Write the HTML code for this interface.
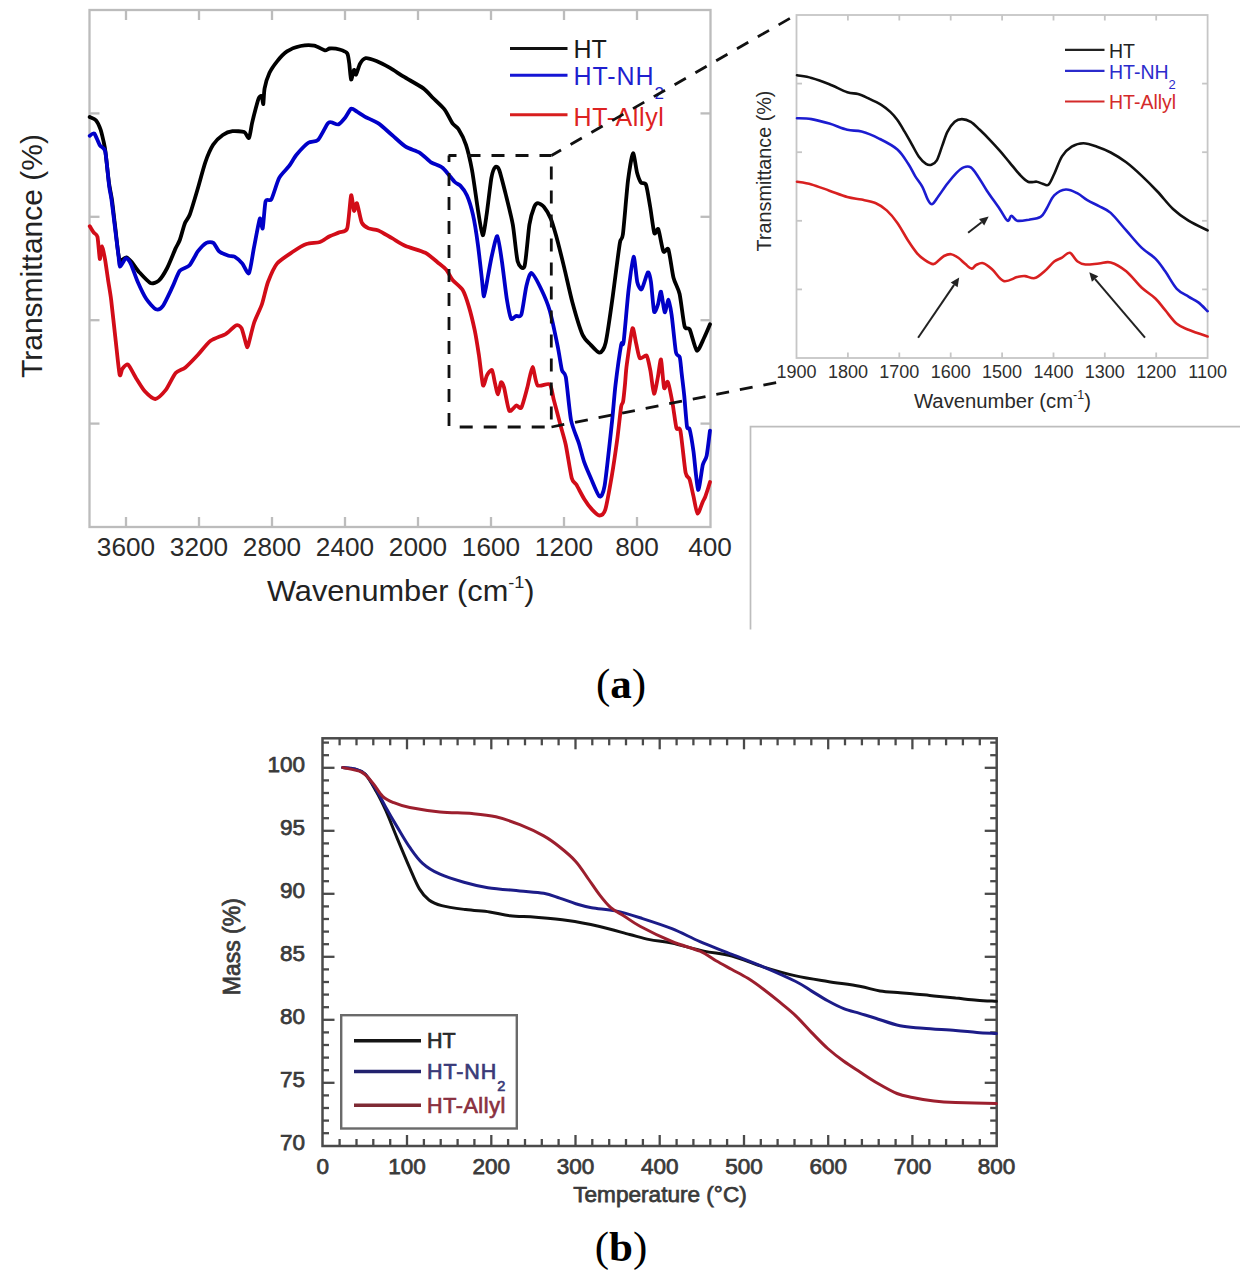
<!DOCTYPE html><html><head><meta charset="utf-8"><title>Figure</title><style>
html,body{margin:0;padding:0;background:#fff;}body{width:1253px;height:1285px;overflow:hidden;position:relative;}svg{position:absolute;left:0;top:0;}
</style></head><body>
<svg width="1253" height="1285" viewBox="0 0 1253 1285">
<rect x="0" y="0" width="1253" height="1285" fill="#fff"/>
<g stroke="#bcbcbc" stroke-width="2.3" fill="none">
<rect x="89.5" y="10.0" width="621.0" height="517.0"/>
<line x1="126.0" y1="10.0" x2="126.0" y2="20.0"/>
<line x1="126.0" y1="527.0" x2="126.0" y2="517.0"/>
<line x1="199.0" y1="10.0" x2="199.0" y2="20.0"/>
<line x1="199.0" y1="527.0" x2="199.0" y2="517.0"/>
<line x1="272.0" y1="10.0" x2="272.0" y2="20.0"/>
<line x1="272.0" y1="527.0" x2="272.0" y2="517.0"/>
<line x1="345.0" y1="10.0" x2="345.0" y2="20.0"/>
<line x1="345.0" y1="527.0" x2="345.0" y2="517.0"/>
<line x1="418.0" y1="10.0" x2="418.0" y2="20.0"/>
<line x1="418.0" y1="527.0" x2="418.0" y2="517.0"/>
<line x1="491.0" y1="10.0" x2="491.0" y2="20.0"/>
<line x1="491.0" y1="527.0" x2="491.0" y2="517.0"/>
<line x1="564.0" y1="10.0" x2="564.0" y2="20.0"/>
<line x1="564.0" y1="527.0" x2="564.0" y2="517.0"/>
<line x1="637.0" y1="10.0" x2="637.0" y2="20.0"/>
<line x1="637.0" y1="527.0" x2="637.0" y2="517.0"/>
<line x1="89.5" y1="113.4" x2="99.5" y2="113.4"/>
<line x1="710.5" y1="113.4" x2="700.5" y2="113.4"/>
<line x1="89.5" y1="216.8" x2="99.5" y2="216.8"/>
<line x1="710.5" y1="216.8" x2="700.5" y2="216.8"/>
<line x1="89.5" y1="320.2" x2="99.5" y2="320.2"/>
<line x1="710.5" y1="320.2" x2="700.5" y2="320.2"/>
<line x1="89.5" y1="423.6" x2="99.5" y2="423.6"/>
<line x1="710.5" y1="423.6" x2="700.5" y2="423.6"/>
</g>
<g fill="none" stroke-width="3.8" stroke-linejoin="round" stroke-linecap="round">
<path stroke="#000" d="M89.7,117.0 C90.4,117.4 94.6,118.7 95.9,120.2 C97.2,121.7 99.7,127.1 100.6,129.6 C101.5,132.1 103.1,139.4 103.7,142.0 C104.3,144.6 104.9,147.2 105.5,152.0 C106.1,156.8 108.2,177.4 109.0,183.0 C109.8,188.6 111.3,195.1 112.0,200.0 C112.7,204.9 114.1,218.1 115.0,225.0 C115.9,231.9 118.0,255.1 119.3,258.9 C120.6,262.7 124.9,256.9 126.3,257.3 C127.7,257.7 130.2,260.3 131.7,262.0 C133.2,263.7 137.0,269.8 139.2,272.2 C141.4,274.6 148.1,282.0 150.4,283.0 C152.7,284.0 156.8,282.4 158.8,280.6 C160.8,278.9 165.2,271.8 167.2,268.0 C169.2,264.2 174.1,251.7 175.6,248.4 C177.1,245.1 178.7,243.0 179.8,240.0 C180.9,237.0 183.8,225.9 185.0,223.0 C186.2,220.1 188.2,218.7 189.7,214.8 C191.2,210.9 195.7,195.6 197.5,189.5 C199.3,183.4 203.5,167.5 205.3,162.3 C207.1,157.1 211.1,148.0 213.1,144.8 C215.1,141.6 220.5,136.6 222.8,135.0 C225.1,133.4 230.0,131.5 232.5,131.2 C235.0,130.9 242.3,131.3 244.2,132.1 C246.1,132.9 248.1,139.0 249.0,138.0 C249.9,137.0 251.2,126.9 252.0,123.4 C252.8,119.9 255.1,110.8 255.9,107.8 C256.7,104.8 258.1,99.5 258.8,98.1 C259.5,96.7 261.2,95.4 261.7,96.1 C262.2,96.8 263.0,104.9 263.3,104.0 C263.6,103.1 263.9,92.0 264.6,88.4 C265.3,84.8 268.0,76.0 269.5,72.8 C271.0,69.6 275.3,63.6 277.3,61.1 C279.3,58.6 284.3,53.2 287.0,51.4 C289.7,49.6 297.4,46.7 300.6,46.0 C303.8,45.3 311.4,45.1 314.2,45.6 C317.0,46.1 323.1,50.1 324.9,50.4 C326.7,50.7 328.0,48.6 329.7,48.5 C331.4,48.4 337.5,48.9 339.5,49.5 C341.5,50.1 346.1,51.7 347.2,53.3 C348.3,54.9 348.7,59.9 349.2,63.0 C349.7,66.1 350.5,78.8 351.1,79.6 C351.7,80.4 353.4,70.5 354.0,69.9 C354.6,69.3 355.3,75.4 356.0,74.7 C356.7,74.0 358.8,65.9 359.9,64.0 C361.0,62.1 363.8,58.5 365.7,58.2 C367.6,57.9 373.6,60.0 376.4,61.1 C379.2,62.2 386.8,66.1 390.0,67.9 C393.2,69.7 399.8,74.3 403.7,76.7 C407.6,79.1 420.0,85.9 423.4,88.4 C426.8,90.9 430.5,95.5 433.0,98.0 C435.5,100.5 442.5,106.8 444.8,109.8 C447.1,112.8 450.9,121.2 452.5,123.4 C454.1,125.6 456.8,126.5 458.4,129.0 C460.0,131.5 464.4,140.0 466.0,144.8 C467.6,149.6 470.6,162.5 472.0,170.0 C473.4,177.5 476.6,201.4 477.8,209.0 C479.0,216.6 481.7,234.6 482.7,235.3 C483.7,236.0 485.6,221.5 486.6,214.8 C487.6,208.1 490.4,183.5 491.4,177.9 C492.4,172.3 494.4,167.9 495.3,167.0 C496.2,166.1 498.0,166.7 499.2,170.0 C500.4,173.3 504.4,189.0 506.0,195.4 C507.6,201.8 511.4,216.9 512.8,224.6 C514.2,232.3 516.3,256.6 517.7,261.5 C519.1,266.4 523.1,270.7 524.5,266.4 C525.9,262.1 528.3,231.5 529.4,224.6 C530.5,217.7 533.2,209.5 534.2,207.0 C535.2,204.5 536.9,203.2 538.0,203.2 C539.1,203.2 542.5,205.2 544.0,207.0 C545.5,208.8 549.4,215.4 550.8,218.7 C552.2,222.0 554.4,229.6 556.0,235.3 C557.6,241.0 562.3,259.8 564.2,267.6 C566.1,275.4 570.2,294.2 572.3,302.0 C574.4,309.8 580.3,329.5 582.4,334.5 C584.5,339.5 588.5,342.5 590.5,344.6 C592.5,346.7 597.8,352.9 599.6,352.7 C601.4,352.5 604.2,349.2 605.7,342.6 C607.2,336.0 611.2,307.6 612.8,296.0 C614.4,284.4 618.6,250.6 619.8,243.4 C621.0,236.2 621.9,241.6 622.9,234.3 C623.9,227.0 626.8,190.0 628.0,180.6 C629.2,171.2 632.0,154.2 633.0,153.3 C634.0,152.4 636.1,169.1 637.0,172.5 C637.9,175.9 640.0,181.2 641.0,182.6 C642.0,184.0 644.9,181.9 646.0,184.7 C647.1,187.5 649.2,201.3 650.2,207.0 C651.2,212.7 653.4,230.6 654.3,233.2 C655.2,235.8 657.2,227.1 658.3,229.2 C659.4,231.3 662.2,249.1 663.4,251.5 C664.6,253.9 667.2,246.3 668.4,249.4 C669.6,252.5 672.2,272.6 673.5,277.8 C674.8,283.0 678.3,288.3 679.6,294.0 C680.9,299.7 683.4,322.3 684.6,326.4 C685.8,330.5 688.3,326.6 689.7,329.4 C691.1,332.2 695.2,349.5 696.8,350.6 C698.4,351.7 702.3,341.6 703.8,338.5 C705.3,335.4 709.3,326.0 710.0,324.3"/>
<path stroke="#0000c8" d="M89.7,135.8 C90.2,135.5 93.1,132.4 94.3,133.5 C95.5,134.6 98.5,143.1 99.8,145.2 C101.1,147.3 104.1,146.7 105.2,151.4 C106.3,156.1 108.4,180.1 109.1,185.7 C109.8,191.3 110.9,195.2 111.5,199.7 C112.1,204.2 113.8,218.1 114.6,224.6 C115.4,231.1 117.9,250.9 118.5,255.8 C119.1,260.7 119.1,266.4 120.0,266.7 C120.9,267.0 124.6,258.5 125.9,258.2 C127.2,257.9 129.4,261.0 130.8,263.8 C132.2,266.6 136.0,277.9 137.8,282.0 C139.6,286.1 144.1,295.6 146.2,298.8 C148.3,302.0 154.0,308.5 156.0,309.3 C158.0,310.1 161.0,308.5 163.0,305.8 C165.0,303.1 170.8,290.3 172.8,286.2 C174.8,282.1 177.8,273.2 179.8,270.8 C181.8,268.4 187.5,267.5 189.6,265.2 C191.7,262.9 196.0,253.8 198.0,251.2 C200.0,248.6 204.6,243.8 206.4,242.8 C208.2,241.8 211.9,241.8 213.4,242.8 C214.9,243.8 217.2,249.7 219.0,251.2 C220.8,252.7 226.8,255.1 228.6,255.7 C230.4,256.3 232.9,255.8 234.5,256.7 C236.1,257.6 240.6,261.6 242.3,263.5 C244.0,265.4 247.6,275.0 249.0,273.2 C250.4,271.4 252.6,254.3 253.9,247.9 C255.2,241.5 258.8,221.0 259.8,218.7 C260.8,216.4 262.0,230.4 262.7,228.4 C263.4,226.4 264.6,204.6 265.6,201.2 C266.6,197.8 269.8,202.0 271.4,199.3 C273.0,196.6 277.1,181.8 279.2,177.9 C281.3,174.0 287.0,168.9 289.0,166.2 C291.0,163.5 294.4,157.2 296.7,154.5 C299.0,151.8 305.9,144.5 308.4,142.8 C310.9,141.1 315.8,142.2 318.1,139.9 C320.4,137.6 326.2,125.4 327.8,123.4 C329.4,121.4 330.5,122.3 331.7,122.4 C332.9,122.5 336.9,125.0 338.5,124.4 C340.1,123.8 343.8,119.3 345.3,117.5 C346.8,115.7 349.7,109.5 351.1,108.8 C352.5,108.1 355.4,110.8 357.0,111.7 C358.6,112.6 362.2,115.2 364.7,116.6 C367.2,118.0 375.2,121.3 378.4,123.4 C381.6,125.5 388.8,132.3 392.0,135.0 C395.2,137.7 402.4,144.6 405.6,146.7 C408.8,148.8 416.5,150.8 419.5,152.6 C422.5,154.4 428.3,160.5 431.0,162.3 C433.7,164.1 440.1,165.7 442.8,168.0 C445.5,170.3 452.5,179.7 454.5,181.8 C456.5,183.9 458.8,184.0 460.3,185.6 C461.8,187.2 465.5,192.0 467.0,195.4 C468.5,198.8 471.7,209.1 473.0,214.8 C474.3,220.5 476.8,236.4 477.8,244.0 C478.9,251.6 481.3,273.9 482.0,280.0 C482.7,286.1 483.3,296.8 484.0,296.3 C484.7,295.8 487.1,280.8 488.0,276.0 C488.9,271.2 490.9,259.6 492.0,255.0 C493.1,250.4 496.1,235.4 497.3,236.2 C498.5,237.0 500.9,254.5 502.0,262.0 C503.1,269.5 505.9,293.7 507.0,300.3 C508.1,306.9 509.9,316.7 511.0,318.5 C512.0,320.3 514.8,316.5 516.0,316.0 C517.2,315.5 520.2,318.0 521.4,314.5 C522.6,311.0 525.2,290.8 526.4,286.0 C527.6,281.2 529.7,272.5 531.5,273.0 C533.3,273.5 539.5,285.6 541.6,290.0 C543.7,294.4 547.8,303.9 549.7,310.5 C551.6,317.1 556.4,340.0 557.8,346.9 C559.2,353.8 561.0,366.5 561.9,370.0 C562.8,373.5 564.7,371.2 565.8,377.0 C566.9,382.8 569.5,412.2 571.0,420.0 C572.5,427.8 577.5,438.8 579.0,443.7 C580.5,448.6 582.8,458.2 584.2,462.2 C585.6,466.2 589.0,474.0 590.8,478.0 C592.6,482.0 597.8,495.5 599.4,496.4 C601.0,497.3 603.1,494.5 604.6,485.9 C606.1,477.3 610.6,434.5 611.9,422.7 C613.2,410.9 614.4,394.1 615.5,385.0 C616.6,375.9 620.3,349.5 621.2,344.5 C622.1,339.5 622.7,348.4 623.6,342.0 C624.5,335.6 627.4,299.7 628.6,289.8 C629.8,279.9 632.6,257.7 633.6,256.8 C634.6,255.9 636.4,278.5 637.3,282.3 C638.2,286.1 640.5,290.4 641.7,289.2 C642.9,288.0 646.8,273.2 647.9,272.4 C649.0,271.6 650.3,277.7 651.0,282.3 C651.7,286.9 653.3,309.0 654.1,311.6 C654.9,314.2 657.1,307.0 657.9,304.7 C658.7,302.4 660.2,290.7 661.0,291.6 C661.8,292.5 663.8,311.3 664.7,312.2 C665.6,313.1 667.7,299.4 668.5,299.7 C669.3,300.0 670.7,308.6 671.6,314.7 C672.5,320.8 675.0,347.1 675.9,352.0 C676.8,356.9 679.0,354.7 679.7,357.0 C680.4,359.3 681.0,367.4 681.5,372.0 C682.0,376.6 683.7,389.9 684.3,396.3 C684.9,402.7 686.4,422.8 687.0,426.6 C687.6,430.5 688.8,426.4 689.6,429.3 C690.4,432.2 692.5,444.5 693.5,451.6 C694.5,458.7 697.0,488.3 698.1,489.8 C699.2,491.3 701.8,468.8 702.8,464.8 C703.8,460.8 705.9,459.6 706.7,455.6 C707.5,451.6 709.6,433.5 710.0,430.6"/>
<path stroke="#d20c18" d="M89.7,226.2 C90.2,226.9 92.7,231.1 93.6,232.4 C94.5,233.7 96.8,233.9 97.5,237.0 C98.2,240.1 99.3,257.8 99.8,258.9 C100.3,260.0 101.5,246.2 102.1,246.4 C102.7,246.6 104.5,256.2 105.2,260.4 C105.9,264.6 107.7,277.4 108.4,282.0 C109.1,286.6 110.4,293.7 111.2,300.2 C112.0,306.7 114.4,329.3 115.4,338.0 C116.4,346.7 118.8,370.9 119.6,374.5 C120.4,378.1 121.4,370.0 122.4,368.8 C123.4,367.6 126.4,363.4 128.0,364.6 C129.6,365.8 134.4,375.6 136.4,378.7 C138.4,381.8 142.6,388.9 144.8,391.3 C147.0,393.7 152.9,399.2 155.3,399.0 C157.8,398.8 163.4,392.9 165.8,389.9 C168.2,386.9 173.3,375.6 175.6,373.0 C177.9,370.4 182.8,369.6 185.4,367.5 C188.0,365.4 195.1,357.9 198.0,354.8 C200.9,351.7 207.3,343.2 210.6,340.8 C213.9,338.4 223.0,335.6 226.0,333.8 C229.0,332.0 234.1,326.1 235.9,325.4 C237.7,324.7 240.3,325.9 241.5,328.2 C242.7,330.5 245.6,342.9 246.4,345.0 C247.2,347.1 247.1,348.6 248.0,346.0 C248.9,343.4 252.4,327.9 254.0,323.0 C255.6,318.1 260.4,308.8 262.0,304.0 C263.6,299.2 266.2,286.7 268.0,282.0 C269.8,277.3 274.1,267.1 277.0,263.6 C279.9,260.1 289.4,254.1 292.8,251.8 C296.2,249.5 303.3,245.1 306.5,244.0 C309.7,242.9 317.3,242.9 320.0,242.0 C322.7,241.1 327.4,237.3 329.7,236.2 C332.0,235.1 337.5,233.2 339.5,232.3 C341.5,231.4 345.8,232.7 347.2,228.4 C348.6,224.1 350.3,197.4 351.1,195.4 C351.9,193.4 353.3,210.0 354.0,210.9 C354.7,211.8 356.1,201.8 357.0,203.2 C357.9,204.6 360.4,219.7 361.8,222.6 C363.2,225.5 366.7,227.5 368.6,228.4 C370.5,229.3 375.7,229.3 378.4,230.4 C381.1,231.5 388.8,236.4 392.0,238.2 C395.2,240.0 401.7,244.3 405.6,246.0 C409.5,247.7 421.4,250.8 425.3,252.8 C429.2,254.8 436.5,261.5 439.0,263.5 C441.5,265.5 444.9,268.1 446.5,270.0 C448.1,271.9 450.7,277.7 452.6,280.0 C454.5,282.3 460.8,286.9 462.7,290.0 C464.6,293.1 467.4,301.7 468.8,306.4 C470.2,311.1 473.6,325.0 474.8,330.7 C476.0,336.4 477.9,348.6 478.9,355.0 C479.9,361.4 482.1,382.9 483.0,385.3 C483.9,387.7 485.9,377.0 487.0,375.2 C488.1,373.4 491.1,369.1 492.0,370.0 C492.9,370.9 494.3,380.5 495.0,383.3 C495.7,386.1 497.3,394.5 498.0,394.4 C498.7,394.3 500.3,383.1 501.0,382.3 C501.7,381.5 503.0,384.0 504.0,387.3 C505.0,390.6 507.8,408.5 509.2,410.6 C510.6,412.7 514.9,405.9 516.3,405.5 C517.7,405.1 520.1,409.6 521.4,407.5 C522.7,405.4 526.1,392.0 527.4,387.3 C528.7,382.6 531.3,367.2 532.5,367.0 C533.7,366.8 535.5,383.3 537.5,385.3 C539.5,387.3 547.8,382.7 549.7,384.3 C551.6,385.9 552.4,394.6 553.7,399.4 C555.0,404.2 559.1,420.0 560.5,425.3 C561.9,430.6 564.5,438.9 565.8,445.0 C567.1,451.1 570.5,473.4 571.7,478.0 C572.9,482.6 574.8,482.2 576.3,484.6 C577.8,487.1 582.4,496.1 584.2,499.0 C586.0,501.9 590.3,507.7 592.1,509.6 C593.9,511.5 597.9,515.5 599.4,515.5 C600.9,515.5 603.8,514.3 605.3,509.6 C606.8,504.9 610.5,483.4 611.9,475.3 C613.3,467.2 616.1,447.8 617.2,439.8 C618.3,431.8 620.4,411.4 621.1,406.9 C621.8,402.4 622.6,404.4 623.1,401.6 C623.6,398.8 624.7,387.5 625.1,383.2 C625.5,378.9 625.9,370.9 626.8,364.5 C627.7,358.1 631.3,330.9 632.4,328.4 C633.5,325.9 635.2,339.8 636.1,343.3 C637.0,346.8 638.6,356.8 639.8,358.2 C641.0,359.6 645.5,354.2 646.7,355.7 C647.9,357.2 649.5,366.3 650.4,370.7 C651.3,375.1 653.1,393.0 654.0,393.7 C654.9,394.4 657.1,381.0 657.9,377.0 C658.7,373.0 660.3,358.2 661.0,359.5 C661.7,360.8 663.3,385.4 664.1,388.0 C664.9,390.6 666.8,380.1 667.8,381.9 C668.8,383.6 671.5,397.6 672.5,403.0 C673.5,408.4 675.5,424.8 676.4,428.0 C677.3,431.2 679.3,425.4 680.4,430.6 C681.5,435.8 684.5,467.0 685.6,472.7 C686.7,478.4 688.7,476.5 689.6,479.3 C690.5,482.1 692.6,492.4 693.5,496.4 C694.4,500.4 696.4,512.9 697.5,513.5 C698.6,514.1 701.9,503.7 702.8,501.7 C703.7,499.7 704.6,498.7 705.4,496.4 C706.2,494.1 709.5,483.7 710.0,482.0"/>
</g>
<text x="126.0" y="555.5" font-family='"Liberation Sans", sans-serif' font-size="26.2" fill="#2a2a2a" text-anchor="middle" font-weight="normal" >3600</text>
<text x="199.0" y="555.5" font-family='"Liberation Sans", sans-serif' font-size="26.2" fill="#2a2a2a" text-anchor="middle" font-weight="normal" >3200</text>
<text x="272.0" y="555.5" font-family='"Liberation Sans", sans-serif' font-size="26.2" fill="#2a2a2a" text-anchor="middle" font-weight="normal" >2800</text>
<text x="345.0" y="555.5" font-family='"Liberation Sans", sans-serif' font-size="26.2" fill="#2a2a2a" text-anchor="middle" font-weight="normal" >2400</text>
<text x="418.0" y="555.5" font-family='"Liberation Sans", sans-serif' font-size="26.2" fill="#2a2a2a" text-anchor="middle" font-weight="normal" >2000</text>
<text x="491.0" y="555.5" font-family='"Liberation Sans", sans-serif' font-size="26.2" fill="#2a2a2a" text-anchor="middle" font-weight="normal" >1600</text>
<text x="564.0" y="555.5" font-family='"Liberation Sans", sans-serif' font-size="26.2" fill="#2a2a2a" text-anchor="middle" font-weight="normal" >1200</text>
<text x="637.0" y="555.5" font-family='"Liberation Sans", sans-serif' font-size="26.2" fill="#2a2a2a" text-anchor="middle" font-weight="normal" >800</text>
<text x="710.0" y="555.5" font-family='"Liberation Sans", sans-serif' font-size="26.2" fill="#2a2a2a" text-anchor="middle" font-weight="normal" >400</text>
<text transform="translate(267,601) scale(1.067,1)" x="0" y="0" font-family='"Liberation Sans", sans-serif' font-size="28.8" fill="#222">Wavenumber (cm<tspan font-size="17" dy="-13">-1</tspan><tspan dy="13">)</tspan></text>
<text transform="translate(42,256) rotate(-90)" font-family='"Liberation Sans", sans-serif' font-size="30" fill="#222" text-anchor="middle">Transmittance (%)</text>
<g stroke-width="3" fill="none">
<line x1="510" y1="48.4" x2="567.5" y2="48.4" stroke="#111"/>
<line x1="510" y1="75.3" x2="567.5" y2="75.3" stroke="#1515d5"/>
<line x1="510" y1="114.8" x2="567.5" y2="114.8" stroke="#d81e1e"/>
</g>
<text x="573.5" y="58.0" font-family='"Liberation Sans", sans-serif' font-size="25.0" fill="#1a1a1a" text-anchor="start" font-weight="normal" >HT</text>
<text x="573.5" y="85.3" font-family='"Liberation Sans", sans-serif' font-size="25" fill="#1f1fcf" letter-spacing="0.9">HT-NH<tspan font-size="17" dy="14" letter-spacing="0">2</tspan></text>
<text x="573.5" y="125.5" font-family='"Liberation Sans", sans-serif' font-size="25.0" fill="#dd2222" text-anchor="start" font-weight="normal" letter-spacing="0.6">HT-Allyl</text>
<line x1="448.5" y1="155.5" x2="551.5" y2="155.5" stroke="#111" stroke-width="2.8" fill="none" stroke-dasharray="13,11" stroke-dashoffset="5"/>
<line x1="449" y1="155.5" x2="449" y2="427" stroke="#111" stroke-width="2.8" fill="none" stroke-dasharray="13,11" stroke-dashoffset="6.4"/>
<line x1="449" y1="427" x2="551.5" y2="427" stroke="#111" stroke-width="2.8" fill="none" stroke-dasharray="13,11" stroke-dashoffset="13.3"/>
<line x1="551.3" y1="155.5" x2="551.3" y2="427" stroke="#111" stroke-width="2.8" fill="none" stroke-dasharray="13,11" stroke-dashoffset="13"/>
<line x1="551.5" y1="155.5" x2="794" y2="16" stroke="#111" stroke-width="2.8" fill="none" stroke-dasharray="13,11" stroke-dashoffset="2"/>
<line x1="551.5" y1="427" x2="779" y2="382" stroke="#111" stroke-width="2.8" fill="none" stroke-dasharray="13,11" stroke-dashoffset="0"/>
<g stroke="#c6c6c6" stroke-width="1.8" fill="none">
<rect x="796.5" y="15.0" width="411.1" height="343.0"/>
<line x1="847.9" y1="15.0" x2="847.9" y2="20.5"/>
<line x1="847.9" y1="358.0" x2="847.9" y2="352.5"/>
<line x1="899.3" y1="15.0" x2="899.3" y2="20.5"/>
<line x1="899.3" y1="358.0" x2="899.3" y2="352.5"/>
<line x1="950.7" y1="15.0" x2="950.7" y2="20.5"/>
<line x1="950.7" y1="358.0" x2="950.7" y2="352.5"/>
<line x1="1002.1" y1="15.0" x2="1002.1" y2="20.5"/>
<line x1="1002.1" y1="358.0" x2="1002.1" y2="352.5"/>
<line x1="1053.5" y1="15.0" x2="1053.5" y2="20.5"/>
<line x1="1053.5" y1="358.0" x2="1053.5" y2="352.5"/>
<line x1="1104.8" y1="15.0" x2="1104.8" y2="20.5"/>
<line x1="1104.8" y1="358.0" x2="1104.8" y2="352.5"/>
<line x1="1156.2" y1="15.0" x2="1156.2" y2="20.5"/>
<line x1="1156.2" y1="358.0" x2="1156.2" y2="352.5"/>
<line x1="796.5" y1="83.6" x2="802.0" y2="83.6"/>
<line x1="1207.6" y1="83.6" x2="1202.1" y2="83.6"/>
<line x1="796.5" y1="152.2" x2="802.0" y2="152.2"/>
<line x1="1207.6" y1="152.2" x2="1202.1" y2="152.2"/>
<line x1="796.5" y1="220.8" x2="802.0" y2="220.8"/>
<line x1="1207.6" y1="220.8" x2="1202.1" y2="220.8"/>
<line x1="796.5" y1="289.4" x2="802.0" y2="289.4"/>
<line x1="1207.6" y1="289.4" x2="1202.1" y2="289.4"/>
</g>
<g fill="none" stroke-width="2.6" stroke-linejoin="round" stroke-linecap="round">
<path stroke="#111" d="M797.0,75.2 C799.4,75.7 806.1,76.4 811.5,77.9 C816.9,79.4 823.4,81.8 829.4,84.2 C835.4,86.6 842.5,90.6 847.3,92.2 C852.1,93.8 854.4,93.0 858.0,94.0 C861.6,95.0 864.9,96.7 868.8,98.5 C872.7,100.3 877.7,102.6 881.3,104.8 C884.9,107.0 887.6,109.4 890.3,111.9 C893.0,114.4 895.0,116.7 897.4,120.0 C899.8,123.3 902.2,127.6 904.6,131.6 C907.0,135.6 909.3,139.9 911.7,144.1 C914.1,148.3 916.5,153.4 918.9,156.7 C921.3,160.0 923.9,162.5 926.0,163.8 C928.1,165.1 929.6,165.3 931.4,164.7 C933.2,164.1 935.0,163.4 936.8,160.3 C938.6,157.2 940.4,150.7 942.2,145.9 C944.0,141.1 945.4,135.6 947.5,131.6 C949.6,127.6 952.3,123.9 954.7,121.8 C957.1,119.7 959.2,119.1 961.9,119.1 C964.6,119.1 967.8,120.0 970.8,121.8 C973.8,123.6 976.5,126.7 979.8,129.8 C983.1,132.9 987.2,137.1 990.5,140.6 C993.8,144.1 996.5,147.0 999.7,150.6 C1002.9,154.2 1006.2,158.4 1009.5,162.3 C1012.8,166.2 1016.1,170.8 1019.2,174.0 C1022.3,177.2 1025.1,180.4 1028.0,181.7 C1030.9,183.0 1034.3,181.4 1036.7,181.7 C1039.1,182.0 1040.5,183.2 1042.5,183.7 C1044.5,184.2 1046.5,186.3 1048.4,184.7 C1050.4,183.1 1051.9,178.7 1054.2,174.0 C1056.5,169.3 1059.1,161.0 1062.0,156.4 C1064.9,151.8 1068.1,148.9 1071.7,146.7 C1075.3,144.5 1079.2,143.2 1083.4,143.2 C1087.6,143.2 1092.5,145.1 1097.0,146.7 C1101.5,148.2 1105.8,149.9 1110.7,152.5 C1115.6,155.1 1121.0,158.4 1126.2,162.3 C1131.4,166.2 1136.6,171.0 1141.8,175.9 C1147.0,180.8 1152.2,186.0 1157.4,191.5 C1162.6,197.0 1167.8,204.1 1173.0,209.0 C1178.2,213.9 1182.7,217.1 1188.5,220.7 C1194.3,224.3 1204.4,228.8 1207.6,230.4"/>
<path stroke="#1c1cd0" d="M797.0,118.2 C799.4,118.3 806.1,118.2 811.5,119.1 C816.9,120.0 823.4,121.8 829.4,123.6 C835.4,125.4 841.9,128.5 847.3,129.8 C852.7,131.1 856.2,130.1 861.6,131.6 C867.0,133.1 873.5,135.8 879.5,138.8 C885.5,141.8 892.6,145.3 897.4,149.5 C902.2,153.7 905.2,159.3 908.2,163.8 C911.2,168.3 912.9,172.5 915.3,176.4 C917.7,180.3 920.4,183.2 922.5,187.1 C924.6,191.0 926.2,196.8 927.8,199.6 C929.4,202.4 930.5,204.7 932.3,204.1 C934.1,203.5 936.1,199.4 938.6,196.0 C941.1,192.6 944.5,187.4 947.5,183.5 C950.5,179.6 953.8,175.5 956.5,172.8 C959.2,170.1 961.2,168.3 963.6,167.4 C966.0,166.5 968.4,165.9 970.8,167.4 C973.2,168.9 975.3,172.5 978.0,176.4 C980.7,180.3 983.3,185.3 986.9,190.7 C990.5,196.1 996.3,204.0 999.7,209.0 C1003.1,214.0 1005.5,219.6 1007.5,220.7 C1009.5,221.8 1009.8,215.8 1011.4,215.8 C1013.0,215.8 1014.3,220.0 1017.2,220.7 C1020.1,221.3 1025.0,220.3 1028.9,219.7 C1032.8,219.0 1037.7,218.6 1040.6,216.8 C1043.5,215.0 1044.1,212.6 1046.4,209.0 C1048.7,205.4 1051.0,198.7 1054.2,195.4 C1057.5,192.2 1062.0,189.8 1065.9,189.5 C1069.8,189.2 1074.0,191.6 1077.6,193.4 C1081.2,195.2 1083.7,198.1 1087.3,200.2 C1090.9,202.3 1095.1,204.0 1099.0,206.1 C1102.9,208.2 1106.2,208.8 1110.7,212.9 C1115.2,217.0 1121.0,224.6 1126.2,230.4 C1131.4,236.2 1136.9,243.2 1141.8,247.9 C1146.7,252.6 1151.5,254.7 1155.4,258.6 C1159.3,262.5 1161.6,266.3 1165.2,271.3 C1168.8,276.3 1172.9,284.6 1176.8,288.8 C1180.7,293.0 1184.9,294.3 1188.5,296.6 C1192.1,298.9 1195.1,300.0 1198.3,302.4 C1201.5,304.8 1206.0,309.7 1207.6,311.2"/>
<path stroke="#d82020" d="M797.0,181.7 C799.4,182.1 806.1,182.9 811.5,184.4 C816.9,185.9 823.4,188.6 829.4,190.7 C835.4,192.8 841.9,195.5 847.3,197.0 C852.7,198.5 856.8,198.6 861.6,199.6 C866.4,200.6 871.7,201.4 875.9,203.2 C880.1,205.0 883.1,207.1 886.7,210.4 C890.3,213.7 893.8,217.8 897.4,222.9 C901.0,228.0 904.9,235.7 908.2,240.8 C911.5,245.9 914.4,250.2 917.1,253.3 C919.8,256.4 921.6,257.8 924.3,259.6 C927.0,261.4 930.8,264.0 933.2,264.1 C935.6,264.2 936.8,261.9 938.6,260.5 C940.4,259.1 941.9,257.1 944.0,256.0 C946.1,254.9 948.7,253.9 951.1,254.2 C953.5,254.5 955.9,256.1 958.3,257.8 C960.7,259.5 963.2,262.3 965.4,264.1 C967.6,265.9 969.9,268.5 971.7,268.6 C973.5,268.8 974.3,265.9 976.2,265.0 C978.1,264.1 980.6,262.4 983.3,263.2 C986.0,263.9 988.9,266.5 992.3,269.5 C995.7,272.5 999.5,279.7 1003.6,281.0 C1007.8,282.3 1013.6,277.9 1017.2,277.1 C1020.8,276.3 1022.1,275.9 1025.0,276.1 C1027.9,276.3 1031.5,278.9 1034.8,278.1 C1038.0,277.3 1041.3,274.1 1044.5,271.3 C1047.7,268.5 1051.3,263.8 1054.2,261.5 C1057.1,259.2 1059.4,259.1 1062.0,257.6 C1064.6,256.2 1067.2,252.2 1069.8,252.8 C1072.4,253.5 1075.0,259.6 1077.6,261.5 C1080.2,263.4 1081.8,264.2 1085.4,264.5 C1089.0,264.8 1094.8,263.8 1099.0,263.5 C1103.2,263.2 1106.2,261.2 1110.7,262.5 C1115.2,263.8 1121.0,267.1 1126.2,271.3 C1131.4,275.5 1136.9,283.3 1141.8,287.8 C1146.7,292.3 1151.5,294.8 1155.4,298.5 C1159.3,302.2 1161.6,306.0 1165.2,310.2 C1168.8,314.4 1172.9,320.6 1176.8,323.8 C1180.7,327.1 1183.4,327.6 1188.5,329.7 C1193.6,331.8 1204.4,335.4 1207.6,336.5"/>
</g>
<text x="796.5" y="377.5" font-family='"Liberation Sans", sans-serif' font-size="18.0" fill="#2e2e2e" text-anchor="middle" font-weight="normal" >1900</text>
<text x="847.9" y="377.5" font-family='"Liberation Sans", sans-serif' font-size="18.0" fill="#2e2e2e" text-anchor="middle" font-weight="normal" >1800</text>
<text x="899.3" y="377.5" font-family='"Liberation Sans", sans-serif' font-size="18.0" fill="#2e2e2e" text-anchor="middle" font-weight="normal" >1700</text>
<text x="950.7" y="377.5" font-family='"Liberation Sans", sans-serif' font-size="18.0" fill="#2e2e2e" text-anchor="middle" font-weight="normal" >1600</text>
<text x="1002.1" y="377.5" font-family='"Liberation Sans", sans-serif' font-size="18.0" fill="#2e2e2e" text-anchor="middle" font-weight="normal" >1500</text>
<text x="1053.5" y="377.5" font-family='"Liberation Sans", sans-serif' font-size="18.0" fill="#2e2e2e" text-anchor="middle" font-weight="normal" >1400</text>
<text x="1104.8" y="377.5" font-family='"Liberation Sans", sans-serif' font-size="18.0" fill="#2e2e2e" text-anchor="middle" font-weight="normal" >1300</text>
<text x="1156.2" y="377.5" font-family='"Liberation Sans", sans-serif' font-size="18.0" fill="#2e2e2e" text-anchor="middle" font-weight="normal" >1200</text>
<text x="1207.6" y="377.5" font-family='"Liberation Sans", sans-serif' font-size="18.0" fill="#2e2e2e" text-anchor="middle" font-weight="normal" >1100</text>
<text transform="translate(914,407.7) scale(1.04,1)" x="0" y="0" font-family='"Liberation Sans", sans-serif' font-size="19.5" fill="#2a2a2a">Wavenumber (cm<tspan font-size="12" dy="-9">-1</tspan><tspan dy="9">)</tspan></text>
<text transform="translate(771,171) rotate(-90)" font-family='"Liberation Sans", sans-serif' font-size="19.8" fill="#2a2a2a" text-anchor="middle">Transmittance (%)</text>
<g stroke-width="2.2" fill="none">
<line x1="1065" y1="49.8" x2="1104.5" y2="49.8" stroke="#222"/>
<line x1="1065" y1="70.9" x2="1104.5" y2="70.9" stroke="#2b2bcc"/>
<line x1="1065" y1="101.5" x2="1104.5" y2="101.5" stroke="#d42a2a"/>
</g>
<text x="1109.0" y="57.5" font-family='"Liberation Sans", sans-serif' font-size="19.5" fill="#222" text-anchor="start" font-weight="normal" >HT</text>
<text x="1109" y="78.5" font-family='"Liberation Sans", sans-serif' font-size="19.5" fill="#2b2bcc">HT-NH<tspan font-size="13" dy="10">2</tspan></text>
<text x="1109.0" y="109.2" font-family='"Liberation Sans", sans-serif' font-size="19.5" fill="#d42a2a" text-anchor="start" font-weight="normal" >HT-Allyl</text>
<line x1="968.1" y1="232.8" x2="981.6" y2="222.2" stroke="#222" stroke-width="2.0"/>
<polygon fill="#222" points="988.7,216.6 984.2,225.5 979.0,218.9"/>
<line x1="918.1" y1="337.8" x2="954.1" y2="284.9" stroke="#222" stroke-width="2.0"/>
<polygon fill="#222" points="959.2,277.5 957.6,287.3 950.7,282.6"/>
<line x1="1145.0" y1="337.6" x2="1095.1" y2="279.1" stroke="#222" stroke-width="2.0"/>
<polygon fill="#222" points="1089.3,272.2 1098.3,276.3 1091.9,281.8"/>
<polyline fill="none" stroke="#bdbdbd" stroke-width="1.7" points="750.5,629.6 750.5,426.7 1240,426.7"/>
<text x="621" y="698" font-family='"Liberation Serif", serif' font-size="43" fill="#000" text-anchor="middle">(<tspan font-weight="bold">a</tspan>)</text>
<g stroke="#4a4a4a" stroke-width="2.5" fill="none">
<rect x="322.5" y="738.3" width="674.2" height="407.7"/>
</g>
<g stroke="#4a4a4a" stroke-width="2.3">
<line x1="339.6" y1="1146.0" x2="339.6" y2="1139.0"/>
<line x1="339.6" y1="738.3" x2="339.6" y2="745.3"/>
<line x1="356.5" y1="1146.0" x2="356.5" y2="1139.0"/>
<line x1="356.5" y1="738.3" x2="356.5" y2="745.3"/>
<line x1="373.3" y1="1146.0" x2="373.3" y2="1139.0"/>
<line x1="373.3" y1="738.3" x2="373.3" y2="745.3"/>
<line x1="390.2" y1="1146.0" x2="390.2" y2="1139.0"/>
<line x1="390.2" y1="738.3" x2="390.2" y2="745.3"/>
<line x1="407.0" y1="1146.0" x2="407.0" y2="1135.0"/>
<line x1="407.0" y1="738.3" x2="407.0" y2="749.3"/>
<line x1="423.9" y1="1146.0" x2="423.9" y2="1139.0"/>
<line x1="423.9" y1="738.3" x2="423.9" y2="745.3"/>
<line x1="440.7" y1="1146.0" x2="440.7" y2="1139.0"/>
<line x1="440.7" y1="738.3" x2="440.7" y2="745.3"/>
<line x1="457.6" y1="1146.0" x2="457.6" y2="1139.0"/>
<line x1="457.6" y1="738.3" x2="457.6" y2="745.3"/>
<line x1="474.4" y1="1146.0" x2="474.4" y2="1139.0"/>
<line x1="474.4" y1="738.3" x2="474.4" y2="745.3"/>
<line x1="491.3" y1="1146.0" x2="491.3" y2="1135.0"/>
<line x1="491.3" y1="738.3" x2="491.3" y2="749.3"/>
<line x1="508.1" y1="1146.0" x2="508.1" y2="1139.0"/>
<line x1="508.1" y1="738.3" x2="508.1" y2="745.3"/>
<line x1="525.0" y1="1146.0" x2="525.0" y2="1139.0"/>
<line x1="525.0" y1="738.3" x2="525.0" y2="745.3"/>
<line x1="541.8" y1="1146.0" x2="541.8" y2="1139.0"/>
<line x1="541.8" y1="738.3" x2="541.8" y2="745.3"/>
<line x1="558.6" y1="1146.0" x2="558.6" y2="1139.0"/>
<line x1="558.6" y1="738.3" x2="558.6" y2="745.3"/>
<line x1="575.5" y1="1146.0" x2="575.5" y2="1135.0"/>
<line x1="575.5" y1="738.3" x2="575.5" y2="749.3"/>
<line x1="592.3" y1="1146.0" x2="592.3" y2="1139.0"/>
<line x1="592.3" y1="738.3" x2="592.3" y2="745.3"/>
<line x1="609.2" y1="1146.0" x2="609.2" y2="1139.0"/>
<line x1="609.2" y1="738.3" x2="609.2" y2="745.3"/>
<line x1="626.0" y1="1146.0" x2="626.0" y2="1139.0"/>
<line x1="626.0" y1="738.3" x2="626.0" y2="745.3"/>
<line x1="642.9" y1="1146.0" x2="642.9" y2="1139.0"/>
<line x1="642.9" y1="738.3" x2="642.9" y2="745.3"/>
<line x1="659.7" y1="1146.0" x2="659.7" y2="1135.0"/>
<line x1="659.7" y1="738.3" x2="659.7" y2="749.3"/>
<line x1="676.6" y1="1146.0" x2="676.6" y2="1139.0"/>
<line x1="676.6" y1="738.3" x2="676.6" y2="745.3"/>
<line x1="693.4" y1="1146.0" x2="693.4" y2="1139.0"/>
<line x1="693.4" y1="738.3" x2="693.4" y2="745.3"/>
<line x1="710.3" y1="1146.0" x2="710.3" y2="1139.0"/>
<line x1="710.3" y1="738.3" x2="710.3" y2="745.3"/>
<line x1="727.1" y1="1146.0" x2="727.1" y2="1139.0"/>
<line x1="727.1" y1="738.3" x2="727.1" y2="745.3"/>
<line x1="744.0" y1="1146.0" x2="744.0" y2="1135.0"/>
<line x1="744.0" y1="738.3" x2="744.0" y2="749.3"/>
<line x1="760.8" y1="1146.0" x2="760.8" y2="1139.0"/>
<line x1="760.8" y1="738.3" x2="760.8" y2="745.3"/>
<line x1="777.6" y1="1146.0" x2="777.6" y2="1139.0"/>
<line x1="777.6" y1="738.3" x2="777.6" y2="745.3"/>
<line x1="794.5" y1="1146.0" x2="794.5" y2="1139.0"/>
<line x1="794.5" y1="738.3" x2="794.5" y2="745.3"/>
<line x1="811.3" y1="1146.0" x2="811.3" y2="1139.0"/>
<line x1="811.3" y1="738.3" x2="811.3" y2="745.3"/>
<line x1="828.2" y1="1146.0" x2="828.2" y2="1135.0"/>
<line x1="828.2" y1="738.3" x2="828.2" y2="749.3"/>
<line x1="845.0" y1="1146.0" x2="845.0" y2="1139.0"/>
<line x1="845.0" y1="738.3" x2="845.0" y2="745.3"/>
<line x1="861.9" y1="1146.0" x2="861.9" y2="1139.0"/>
<line x1="861.9" y1="738.3" x2="861.9" y2="745.3"/>
<line x1="878.7" y1="1146.0" x2="878.7" y2="1139.0"/>
<line x1="878.7" y1="738.3" x2="878.7" y2="745.3"/>
<line x1="895.6" y1="1146.0" x2="895.6" y2="1139.0"/>
<line x1="895.6" y1="738.3" x2="895.6" y2="745.3"/>
<line x1="912.4" y1="1146.0" x2="912.4" y2="1135.0"/>
<line x1="912.4" y1="738.3" x2="912.4" y2="749.3"/>
<line x1="929.3" y1="1146.0" x2="929.3" y2="1139.0"/>
<line x1="929.3" y1="738.3" x2="929.3" y2="745.3"/>
<line x1="946.1" y1="1146.0" x2="946.1" y2="1139.0"/>
<line x1="946.1" y1="738.3" x2="946.1" y2="745.3"/>
<line x1="962.9" y1="1146.0" x2="962.9" y2="1139.0"/>
<line x1="962.9" y1="738.3" x2="962.9" y2="745.3"/>
<line x1="979.8" y1="1146.0" x2="979.8" y2="1139.0"/>
<line x1="979.8" y1="738.3" x2="979.8" y2="745.3"/>
<line x1="322.5" y1="1133.2" x2="329.0" y2="1133.2"/>
<line x1="996.7" y1="1133.2" x2="990.2" y2="1133.2"/>
<line x1="322.5" y1="1120.6" x2="329.0" y2="1120.6"/>
<line x1="996.7" y1="1120.6" x2="990.2" y2="1120.6"/>
<line x1="322.5" y1="1108.0" x2="329.0" y2="1108.0"/>
<line x1="996.7" y1="1108.0" x2="990.2" y2="1108.0"/>
<line x1="322.5" y1="1095.4" x2="329.0" y2="1095.4"/>
<line x1="996.7" y1="1095.4" x2="990.2" y2="1095.4"/>
<line x1="322.5" y1="1082.8" x2="334.5" y2="1082.8"/>
<line x1="996.7" y1="1082.8" x2="984.7" y2="1082.8"/>
<line x1="322.5" y1="1070.2" x2="329.0" y2="1070.2"/>
<line x1="996.7" y1="1070.2" x2="990.2" y2="1070.2"/>
<line x1="322.5" y1="1057.6" x2="329.0" y2="1057.6"/>
<line x1="996.7" y1="1057.6" x2="990.2" y2="1057.6"/>
<line x1="322.5" y1="1045.0" x2="329.0" y2="1045.0"/>
<line x1="996.7" y1="1045.0" x2="990.2" y2="1045.0"/>
<line x1="322.5" y1="1032.4" x2="329.0" y2="1032.4"/>
<line x1="996.7" y1="1032.4" x2="990.2" y2="1032.4"/>
<line x1="322.5" y1="1019.8" x2="334.5" y2="1019.8"/>
<line x1="996.7" y1="1019.8" x2="984.7" y2="1019.8"/>
<line x1="322.5" y1="1007.2" x2="329.0" y2="1007.2"/>
<line x1="996.7" y1="1007.2" x2="990.2" y2="1007.2"/>
<line x1="322.5" y1="994.6" x2="329.0" y2="994.6"/>
<line x1="996.7" y1="994.6" x2="990.2" y2="994.6"/>
<line x1="322.5" y1="982.0" x2="329.0" y2="982.0"/>
<line x1="996.7" y1="982.0" x2="990.2" y2="982.0"/>
<line x1="322.5" y1="969.4" x2="329.0" y2="969.4"/>
<line x1="996.7" y1="969.4" x2="990.2" y2="969.4"/>
<line x1="322.5" y1="956.8" x2="334.5" y2="956.8"/>
<line x1="996.7" y1="956.8" x2="984.7" y2="956.8"/>
<line x1="322.5" y1="944.2" x2="329.0" y2="944.2"/>
<line x1="996.7" y1="944.2" x2="990.2" y2="944.2"/>
<line x1="322.5" y1="931.6" x2="329.0" y2="931.6"/>
<line x1="996.7" y1="931.6" x2="990.2" y2="931.6"/>
<line x1="322.5" y1="919.0" x2="329.0" y2="919.0"/>
<line x1="996.7" y1="919.0" x2="990.2" y2="919.0"/>
<line x1="322.5" y1="906.4" x2="329.0" y2="906.4"/>
<line x1="996.7" y1="906.4" x2="990.2" y2="906.4"/>
<line x1="322.5" y1="893.8" x2="334.5" y2="893.8"/>
<line x1="996.7" y1="893.8" x2="984.7" y2="893.8"/>
<line x1="322.5" y1="881.2" x2="329.0" y2="881.2"/>
<line x1="996.7" y1="881.2" x2="990.2" y2="881.2"/>
<line x1="322.5" y1="868.6" x2="329.0" y2="868.6"/>
<line x1="996.7" y1="868.6" x2="990.2" y2="868.6"/>
<line x1="322.5" y1="856.0" x2="329.0" y2="856.0"/>
<line x1="996.7" y1="856.0" x2="990.2" y2="856.0"/>
<line x1="322.5" y1="843.4" x2="329.0" y2="843.4"/>
<line x1="996.7" y1="843.4" x2="990.2" y2="843.4"/>
<line x1="322.5" y1="830.8" x2="334.5" y2="830.8"/>
<line x1="996.7" y1="830.8" x2="984.7" y2="830.8"/>
<line x1="322.5" y1="818.2" x2="329.0" y2="818.2"/>
<line x1="996.7" y1="818.2" x2="990.2" y2="818.2"/>
<line x1="322.5" y1="805.6" x2="329.0" y2="805.6"/>
<line x1="996.7" y1="805.6" x2="990.2" y2="805.6"/>
<line x1="322.5" y1="793.0" x2="329.0" y2="793.0"/>
<line x1="996.7" y1="793.0" x2="990.2" y2="793.0"/>
<line x1="322.5" y1="780.4" x2="329.0" y2="780.4"/>
<line x1="996.7" y1="780.4" x2="990.2" y2="780.4"/>
<line x1="322.5" y1="767.8" x2="334.5" y2="767.8"/>
<line x1="996.7" y1="767.8" x2="984.7" y2="767.8"/>
<line x1="322.5" y1="755.2" x2="329.0" y2="755.2"/>
<line x1="996.7" y1="755.2" x2="990.2" y2="755.2"/>
<line x1="322.5" y1="742.6" x2="329.0" y2="742.6"/>
<line x1="996.7" y1="742.6" x2="990.2" y2="742.6"/>
</g>
<g fill="none" stroke-width="3" stroke-linejoin="round" stroke-linecap="round">
<path stroke="#111" d="M342.8,767.6 C344.8,767.9 351.3,768.2 355.0,769.3 C358.7,770.4 361.6,770.3 365.1,774.0 C368.7,777.7 372.8,785.4 376.3,791.5 C379.8,797.6 382.4,803.0 385.9,810.7 C389.3,818.4 393.0,828.2 397.0,837.8 C401.0,847.4 406.1,859.6 409.8,868.1 C413.5,876.6 416.2,883.6 419.4,888.9 C422.6,894.2 425.3,897.2 429.0,900.0 C432.7,902.8 435.6,904.0 441.7,905.6 C447.8,907.2 457.7,908.5 465.7,909.6 C473.7,910.7 482.2,911.0 489.6,912.0 C497.0,913.0 502.3,914.8 510.0,915.7 C517.7,916.6 526.2,916.5 535.8,917.3 C545.4,918.1 557.1,919.0 567.7,920.5 C578.3,922.0 589.3,924.2 599.6,926.5 C609.9,928.8 621.4,932.3 629.7,934.5 C638.1,936.7 642.7,938.2 649.7,939.6 C656.7,941.0 662.9,941.2 671.9,943.1 C680.9,945.0 693.8,949.0 703.8,951.1 C713.8,953.2 721.9,953.3 731.9,956.0 C741.9,958.7 753.1,963.8 763.8,967.1 C774.4,970.4 785.1,973.5 795.8,975.9 C806.4,978.3 817.1,979.8 827.7,981.5 C838.3,983.2 850.9,984.7 859.6,986.3 C868.3,987.9 873.3,989.9 880.0,991.0 C886.7,992.1 894.6,992.2 900.0,992.7 C905.4,993.2 906.8,993.2 912.4,993.7 C918.0,994.2 926.7,995.2 933.9,995.9 C941.1,996.6 948.3,997.3 955.5,998.0 C962.7,998.7 970.2,999.7 977.0,1000.2 C983.8,1000.8 993.2,1001.1 996.4,1001.3"/>
<path stroke="#1c1c88" d="M342.8,767.6 C344.8,767.8 351.3,767.9 355.0,769.0 C358.7,770.1 361.6,770.5 365.1,774.0 C368.7,777.5 372.8,784.3 376.3,789.9 C379.8,795.5 382.4,801.4 385.9,807.5 C389.3,813.6 393.0,820.0 397.0,826.6 C401.0,833.2 405.5,841.3 409.8,847.4 C414.1,853.5 417.6,858.8 422.6,863.3 C427.6,867.8 433.1,871.1 440.0,874.2 C446.9,877.4 455.9,880.0 463.9,882.2 C471.9,884.5 478.6,886.2 487.9,887.7 C497.2,889.2 510.5,890.0 519.8,890.9 C529.1,891.8 537.1,892.1 543.7,893.3 C550.4,894.5 554.4,896.4 559.7,898.1 C565.0,899.8 570.4,902.1 575.7,903.7 C581.0,905.3 585.0,906.5 591.6,907.7 C598.2,908.9 607.5,909.2 615.6,910.9 C623.7,912.6 630.6,914.8 640.0,917.8 C649.4,920.8 661.9,924.7 671.9,928.7 C681.9,932.7 690.0,937.3 700.0,941.6 C710.0,945.9 721.3,950.1 731.9,954.4 C742.5,958.6 753.1,962.6 763.8,967.1 C774.4,971.6 787.8,977.5 795.8,981.5 C803.8,985.5 806.4,987.9 811.7,991.1 C817.0,994.3 822.4,997.8 827.7,1000.7 C833.0,1003.6 838.4,1006.5 843.7,1008.6 C849.0,1010.7 854.3,1011.8 859.6,1013.4 C864.9,1015.0 868.9,1016.1 875.6,1018.2 C882.3,1020.3 892.1,1024.1 900.0,1025.8 C907.9,1027.5 914.0,1027.4 923.2,1028.2 C932.5,1029.0 946.5,1029.7 955.5,1030.4 C964.5,1031.1 970.2,1032.0 977.0,1032.5 C983.8,1033.0 993.2,1033.4 996.4,1033.6"/>
<path stroke="#9c1f2e" d="M342.8,767.6 C346.0,768.4 356.8,769.6 361.9,772.3 C366.9,774.9 369.6,779.5 373.1,783.5 C376.6,787.5 379.2,793.1 382.7,796.3 C386.1,799.5 389.3,800.8 393.8,802.7 C398.3,804.6 402.1,806.0 409.8,807.5 C417.5,809.0 429.6,810.9 440.0,811.9 C450.4,812.9 462.6,812.7 471.9,813.5 C481.2,814.3 487.9,814.8 495.9,816.7 C503.9,818.6 511.8,821.5 519.8,824.7 C527.8,827.9 537.1,832.2 543.7,835.9 C550.4,839.6 554.4,842.8 559.7,847.0 C565.0,851.2 570.9,856.1 575.7,861.4 C580.5,866.7 584.4,873.4 588.4,879.0 C592.4,884.6 595.9,890.1 599.6,894.9 C603.3,899.7 606.8,904.2 610.8,907.7 C614.8,911.2 618.7,912.6 623.6,915.7 C628.5,918.8 632.0,921.9 640.0,926.2 C648.0,930.5 661.9,937.3 671.9,941.5 C681.9,945.7 692.6,948.0 700.0,951.2 C707.4,954.4 710.7,957.8 716.0,960.8 C721.3,963.8 726.6,966.6 731.9,969.5 C737.2,972.4 742.6,975.0 747.9,978.3 C753.2,981.6 758.5,985.5 763.8,989.5 C769.1,993.5 774.5,997.8 779.8,1002.2 C785.1,1006.6 790.5,1010.7 795.8,1015.8 C801.1,1020.9 806.4,1027.1 811.7,1032.6 C817.0,1038.0 822.4,1043.8 827.7,1048.5 C833.0,1053.2 838.1,1057.1 843.5,1061.0 C848.9,1064.9 854.2,1068.2 860.0,1072.0 C865.8,1075.8 871.8,1079.9 878.0,1083.5 C884.2,1087.1 891.3,1091.2 897.0,1093.5 C902.7,1095.8 906.2,1096.2 912.4,1097.5 C918.5,1098.8 926.7,1100.2 933.9,1101.0 C941.1,1101.8 945.1,1102.1 955.5,1102.5 C965.9,1102.9 989.6,1103.4 996.4,1103.6"/>
</g>
<text x="305.0" y="1150.3" font-family='"Liberation Sans", sans-serif' font-size="22.5" fill="#3a3a3a" text-anchor="end" font-weight="normal" stroke="#3a3a3a" stroke-width="0.75">70</text>
<text x="305.0" y="1087.3" font-family='"Liberation Sans", sans-serif' font-size="22.5" fill="#3a3a3a" text-anchor="end" font-weight="normal" stroke="#3a3a3a" stroke-width="0.75">75</text>
<text x="305.0" y="1024.3" font-family='"Liberation Sans", sans-serif' font-size="22.5" fill="#3a3a3a" text-anchor="end" font-weight="normal" stroke="#3a3a3a" stroke-width="0.75">80</text>
<text x="305.0" y="961.3" font-family='"Liberation Sans", sans-serif' font-size="22.5" fill="#3a3a3a" text-anchor="end" font-weight="normal" stroke="#3a3a3a" stroke-width="0.75">85</text>
<text x="305.0" y="898.3" font-family='"Liberation Sans", sans-serif' font-size="22.5" fill="#3a3a3a" text-anchor="end" font-weight="normal" stroke="#3a3a3a" stroke-width="0.75">90</text>
<text x="305.0" y="835.3" font-family='"Liberation Sans", sans-serif' font-size="22.5" fill="#3a3a3a" text-anchor="end" font-weight="normal" stroke="#3a3a3a" stroke-width="0.75">95</text>
<text x="305.0" y="772.3" font-family='"Liberation Sans", sans-serif' font-size="22.5" fill="#3a3a3a" text-anchor="end" font-weight="normal" stroke="#3a3a3a" stroke-width="0.75">100</text>
<text x="322.8" y="1173.5" font-family='"Liberation Sans", sans-serif' font-size="22.5" fill="#3a3a3a" text-anchor="middle" font-weight="normal" stroke="#3a3a3a" stroke-width="0.75">0</text>
<text x="407.0" y="1173.5" font-family='"Liberation Sans", sans-serif' font-size="22.5" fill="#3a3a3a" text-anchor="middle" font-weight="normal" stroke="#3a3a3a" stroke-width="0.75">100</text>
<text x="491.3" y="1173.5" font-family='"Liberation Sans", sans-serif' font-size="22.5" fill="#3a3a3a" text-anchor="middle" font-weight="normal" stroke="#3a3a3a" stroke-width="0.75">200</text>
<text x="575.5" y="1173.5" font-family='"Liberation Sans", sans-serif' font-size="22.5" fill="#3a3a3a" text-anchor="middle" font-weight="normal" stroke="#3a3a3a" stroke-width="0.75">300</text>
<text x="659.7" y="1173.5" font-family='"Liberation Sans", sans-serif' font-size="22.5" fill="#3a3a3a" text-anchor="middle" font-weight="normal" stroke="#3a3a3a" stroke-width="0.75">400</text>
<text x="744.0" y="1173.5" font-family='"Liberation Sans", sans-serif' font-size="22.5" fill="#3a3a3a" text-anchor="middle" font-weight="normal" stroke="#3a3a3a" stroke-width="0.75">500</text>
<text x="828.2" y="1173.5" font-family='"Liberation Sans", sans-serif' font-size="22.5" fill="#3a3a3a" text-anchor="middle" font-weight="normal" stroke="#3a3a3a" stroke-width="0.75">600</text>
<text x="912.4" y="1173.5" font-family='"Liberation Sans", sans-serif' font-size="22.5" fill="#3a3a3a" text-anchor="middle" font-weight="normal" stroke="#3a3a3a" stroke-width="0.75">700</text>
<text x="996.6" y="1173.5" font-family='"Liberation Sans", sans-serif' font-size="22.5" fill="#3a3a3a" text-anchor="middle" font-weight="normal" stroke="#3a3a3a" stroke-width="0.75">800</text>
<text x="660" y="1202.3" font-family='"Liberation Sans", sans-serif' font-size="22.6" stroke="#3a3a3a" stroke-width="0.75" fill="#3a3a3a" text-anchor="middle">Temperature (°C)</text>
<text transform="translate(240,946.7) rotate(-90)" font-family='"Liberation Sans", sans-serif' font-size="23" stroke="#3a3a3a" stroke-width="0.75" fill="#3a3a3a" text-anchor="middle">Mass (%)</text>
<rect x="341.2" y="1015.2" width="175.6" height="113.3" fill="#fff" stroke="#6a6a6a" stroke-width="2.4"/>
<g stroke-width="3.5">
<line x1="354" y1="1040.7" x2="421" y2="1040.7" stroke="#151515"/>
<line x1="354" y1="1071.5" x2="421" y2="1071.5" stroke="#22226e"/>
<line x1="354" y1="1105.3" x2="421" y2="1105.3" stroke="#7e2a34"/>
</g>
<text x="427.0" y="1047.9" font-family='"Liberation Sans", sans-serif' font-size="21.5" fill="#2a2a2a" text-anchor="start" font-weight="normal" stroke="#2a2a2a" stroke-width="0.7">HT</text>
<text x="427" y="1078.8" font-family='"Liberation Sans", sans-serif' font-size="21.5" stroke="#3a3a78" stroke-width="0.7" fill="#3a3a78" letter-spacing="0.9">HT-NH<tspan font-size="14.5" dy="12" letter-spacing="0">2</tspan></text>
<text x="427.0" y="1112.5" font-family='"Liberation Sans", sans-serif' font-size="21.5" fill="#8a3040" text-anchor="start" font-weight="normal" stroke="#8a3040" stroke-width="0.7" letter-spacing="0.6">HT-Allyl</text>
<text x="621" y="1261" font-family='"Liberation Serif", serif' font-size="43" fill="#000" text-anchor="middle">(<tspan font-weight="bold">b</tspan>)</text>
</svg></body></html>
